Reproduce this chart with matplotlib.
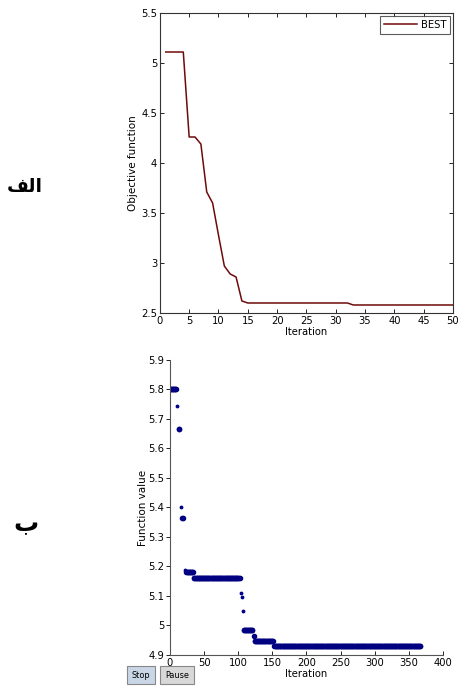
import numpy as np
import matplotlib.pyplot as plt
from matplotlib.font_manager import FontProperties

# top chart: best objective per iteration
best_iter = list(range(1, 51))
best_val = [5.11, 5.11, 5.11, 5.11, 4.26, 4.26, 4.19, 3.71, 3.60, 3.28,
            2.97, 2.89, 2.86, 2.62, 2.60] + [2.60] * 17 + [2.58] * 18

# bottom chart: function value per iteration (plateaus)
# (first iter, last iter, value)
plateaus = [(1, 9, 5.80), (10, 10, 5.744), (13, 14, 5.667), (16, 16, 5.40),
            (18, 19, 5.365), (22, 22, 5.188), (24, 34, 5.18), (35, 102, 5.16),
            (104, 104, 5.11), (106, 106, 5.095), (107, 107, 5.05),
            (108, 121, 4.985), (123, 123, 4.965), (124, 151, 4.947),
            (153, 367, 4.93)]
small_pts = [5.744, 5.40, 5.188, 5.11, 5.095, 5.05]

fig = plt.figure(figsize=(4.58, 6.92), dpi=100)
narrow = FontProperties(family='DejaVu Sans', stretch='condensed', size=8)


def narrow_labels(ax):
    for lab in ax.get_xticklabels() + ax.get_yticklabels():
        lab.set_fontproperties(narrow)


# ---- top
ax1 = fig.add_axes([0.349, 0.5477, 0.640, 0.4335])
ax1.plot(best_iter, best_val, color='#6e0a0a', linewidth=1.1, label='BEST')
ax1.set_xlim(0, 50)
ax1.set_ylim(2.5, 5.5)
ax1.set_xticks(np.arange(0, 51, 5))
ax1.set_yticks([2.5, 3, 3.5, 4, 4.5, 5, 5.5])
ax1.set_yticklabels(['2.5', '3', '3.5', '4', '4.5', '5', '5.5'])
ax1.tick_params(direction='in', top=True, right=True, length=3,
                width=0.6, pad=2)
narrow_labels(ax1)
for s in ax1.spines.values():
    s.set_linewidth(0.8)
    s.set_color('#333333')
ax1.set_xlabel('Iteration', fontproperties=narrow, labelpad=1)
ax1.set_ylabel('Objective function', fontsize=7.5, labelpad=2)
leg = ax1.legend(loc='upper right', frameon=True, fancybox=False,
                 handlelength=3, borderpad=0.35, borderaxespad=0.25,
                 handletextpad=0.3, prop=narrow)
leg.get_frame().set_edgecolor('#333333')
leg.get_frame().set_linewidth(0.8)

# ---- bottom
ax2 = fig.add_axes([0.371, 0.0535, 0.596, 0.4263])
for a, b, v in plateaus:
    xs = list(range(a, b + 1))
    ys = [v] * len(xs)
    if v in small_pts:
        ax2.plot(xs, ys, linestyle='none', marker='.', markersize=3.5,
                 color='#00008b')
    else:
        ax2.plot(xs, ys, linestyle='none', marker='o', markersize=3.0,
                 color='#00008b', markeredgecolor='#000080')
ax2.set_xlim(0, 400)
ax2.set_ylim(4.9, 5.9)
ax2.set_xticks(np.arange(0, 401, 50))
ax2.set_yticks(np.round(np.arange(4.9, 5.91, 0.1), 1))
ax2.set_yticklabels(['4.9', '5', '5.1', '5.2', '5.3', '5.4', '5.5', '5.6',
                     '5.7', '5.8', '5.9'])
ax2.spines['top'].set_visible(False)
ax2.spines['right'].set_visible(False)
for s in ['left', 'bottom']:
    ax2.spines[s].set_linewidth(0.8)
    ax2.spines[s].set_color('#555555')
ax2.tick_params(axis='x', direction='in', length=3, width=0.6, pad=2)
ax2.tick_params(axis='y', direction='out', length=3, width=0.6, pad=1)
narrow_labels(ax2)
ax2.set_xlabel('Iteration', fontproperties=narrow, labelpad=1)
ax2.set_ylabel('Function value', fontsize=7.5, labelpad=0)

# buttons
btn_font = FontProperties(family='DejaVu Sans', stretch='condensed', size=6.5)
fig.text(141 / 458, 1 - 675 / 692, 'Stop', fontproperties=btn_font,
         ha='center', va='center',
         bbox=dict(boxstyle='square,pad=0.55', facecolor='#c9d6e6',
                   edgecolor='#888888', linewidth=0.8))
fig.text(177 / 458, 1 - 675 / 692, 'Pause', fontproperties=btn_font,
         ha='center', va='center',
         bbox=dict(boxstyle='square,pad=0.55', facecolor='#d8d8d8',
                   edgecolor='#888888', linewidth=0.8))

# Arabic panel labels (presentation forms, visual order)
fig.text(25 / 458, 1 - 186 / 692, '\uFED2\uFEDF\uFE8D', fontsize=13.5,
         fontweight='bold', ha='center', va='center', family='DejaVu Sans')
fig.text(26 / 458, 1 - 524 / 692, '\uFE8F', fontsize=18,
         fontweight='bold', ha='center', va='center', family='DejaVu Sans')

fig.savefig('out.png', dpi=100)
